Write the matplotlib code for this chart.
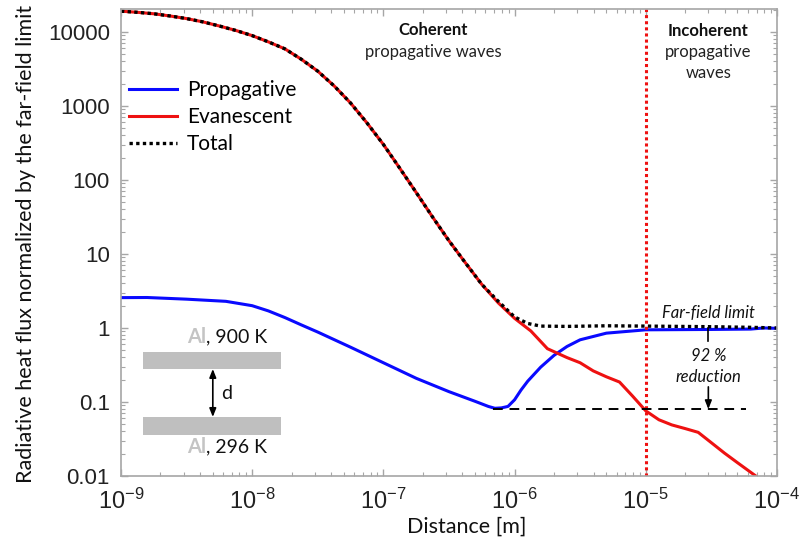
import matplotlib
matplotlib.use('Agg')
import matplotlib.pyplot as plt
from matplotlib.patches import Rectangle
from matplotlib.ticker import LogLocator, FuncFormatter, NullFormatter

plt.rcParams['font.family'] = ['Lato', 'DejaVu Sans']
plt.rcParams['mathtext.fontset'] = 'custom'
plt.rcParams['mathtext.rm'] = 'Liberation Sans'
plt.rcParams['mathtext.it'] = 'Liberation Sans:italic'

# distances [m] and normalized flux
dist_ev = [1e-9, 1.33e-9, 1.78e-9, 2.37e-9, 3.16e-9, 4.22e-9, 5.62e-9, 7.5e-9,
           1e-8, 1.33e-8, 1.78e-8, 2.37e-8, 3.16e-8, 4.22e-8, 5.62e-8, 7.5e-8,
           1e-7, 1.33e-7, 1.78e-7, 2.37e-7, 3.16e-7, 4.22e-7, 5.62e-7, 7.5e-7,
           1e-6, 1.33e-6, 1.78e-6, 2.51e-6, 3.16e-6, 3.98e-6, 5.01e-6, 6.31e-6,
           7.94e-6, 1e-5, 1.26e-5, 1.58e-5, 2.0e-5, 2.51e-5, 3.16e-5, 3.98e-5,
           5.01e-5, 6.9e-5]
evanescent = [19050, 18410, 17580, 16410, 15140, 13650, 12020, 10470,
              8910, 7330, 5890, 4270, 2950, 1860, 1096, 589,
              302, 145, 67.6, 31.6, 15.1, 7.59, 3.89, 2.19,
              1.35, 0.912, 0.525, 0.398, 0.339, 0.263, 0.219, 0.186,
              0.120, 0.0759, 0.0575, 0.049, 0.0437, 0.0389, 0.0282, 0.0204,
              0.0151, 0.01]

dist_prop = [1e-9, 1.58e-9, 3.16e-9, 6.31e-9, 1e-8, 1.33e-8, 1.78e-8, 2.37e-8,
             3.16e-8, 5.62e-8, 1e-7, 1.78e-7, 3.16e-7, 5.01e-7, 6.31e-7, 7.08e-7,
             7.94e-7, 8.91e-7, 1e-6, 1.12e-6, 1.26e-6, 1.58e-6, 2.0e-6, 2.51e-6,
             3.16e-6, 5.01e-6, 1e-5, 3.16e-5, 6.31e-5, 7.94e-5, 1e-4]
propagative = [2.57, 2.58, 2.45, 2.29, 2.0, 1.7, 1.38, 1.1,
               0.881, 0.55, 0.339, 0.209, 0.138, 0.102, 0.0871, 0.0822,
               0.0832, 0.0871, 0.107, 0.145, 0.191, 0.295, 0.427, 0.562,
               0.692, 0.851, 0.944, 0.955, 0.966, 1.0, 0.989]

dist_tot = dist_ev[:23] + [7.5e-7, 1e-6, 1.26e-6, 1.58e-6,
                           2.51e-6, 5.01e-6, 1e-5, 3.16e-5, 6.31e-5, 7.94e-5, 1e-4]
total = evanescent[:23] + [2.3, 1.41, 1.15, 1.06,
                           1.05, 1.07, 1.06, 1.04, 1.02, 1.01, 1.0]

x_ticks = [1e-9, 1e-8, 1e-7, 1e-6, 1e-5, 1e-4]
y_ticks = [0.01, 0.1, 1, 10, 100, 1000, 10000]

d_incoherent = 1e-5
min_level = 0.08
dash_range = [6.8e-7, 5.8e-5]
arrow_x = 3.0e-5

fig = plt.figure(figsize=(7.99, 5.44), dpi=100)
ax = fig.add_axes([0.1514, 0.125, 0.821, 0.8576])

ax.plot(dist_prop, propagative, color='#0a0aff', lw=2.2, label='Propagative')
ax.plot(dist_ev, evanescent, color='#ee1111', lw=2.2, label='Evanescent')
ax.plot(dist_tot, total, color='black', lw=2.4, ls=(0, (1, 1)), label='Total')

ax.axvline(d_incoherent, color='#ee1111', lw=2.2, ls=(0, (1, 1)))
ax.plot(dash_range, [min_level, min_level], color='black', lw=1.4, ls=(0, (5, 3.5)))

ax.set_xscale('log')
ax.set_yscale('log')
ax.set_xticks(x_ticks)
ax.set_yticks(y_ticks)
ax.set_xlim(1e-9, 1e-4)
ax.set_ylim(0.01, 2.01e4)

ax.yaxis.set_major_formatter(FuncFormatter(lambda v, p: f'{v:g}'))
ax.yaxis.set_minor_formatter(NullFormatter())
ax.xaxis.set_minor_formatter(NullFormatter())
ax.xaxis.set_minor_locator(LogLocator(base=10, subs=range(2, 10)))
ax.yaxis.set_minor_locator(LogLocator(base=10, subs=range(2, 10)))

for s in ax.spines.values():
    s.set_color('#a6a6a6')
    s.set_linewidth(1.2)
ax.tick_params(which='both', direction='in', top=True, right=True, color='#a6a6a6')
ax.tick_params(which='major', length=5, width=1.0)
ax.tick_params(which='minor', length=3, width=0.8)
ax.tick_params(axis='x', which='major', labelsize=17, pad=9)
ax.tick_params(axis='y', which='major', labelsize=16, pad=8)
for lab in ax.get_xticklabels() + ax.get_yticklabels():
    lab.set_family('Liberation Sans')
    lab.set_color('#222222')

ax.set_xlabel('Distance [m]', fontsize=15.5, color='#111111')
ax.xaxis.set_label_coords(0.527, -0.088)
ax.set_ylabel('Radiative heat flux normalized by the far-field limit', fontsize=15.5, color='#111111')
ax.yaxis.set_label_coords(-0.13, 0.497)

leg = ax.legend(loc='upper left', bbox_to_anchor=(0.012, 0.848), frameon=False, fontsize=15,
                handlelength=2.3, handletextpad=0.5, labelspacing=0.33, borderpad=0, borderaxespad=0)

# region labels
ax.text(2.4e-7, 1.06e4, 'Coherent', ha='center', va='center', fontsize=12, weight='bold', color='#111111')
ax.text(2.4e-7, 5.4e3, 'propagative waves', ha='center', va='center', fontsize=12, color='#222222')
ax.text(3.0e-5, 1.03e4, 'Incoherent', ha='center', va='center', fontsize=12, weight='bold', color='#111111')
ax.text(3.0e-5, 5.4e3, 'propagative', ha='center', va='center', fontsize=12, color='#222222')
ax.text(3.0e-5, 2.8e3, 'waves', ha='center', va='center', fontsize=12, color='#222222')

# far-field annotation
ax.text(arrow_x, 1.6, 'Far-field limit', ha='center', va='center', fontsize=12, style='italic', color='#111111')
ax.plot([arrow_x, arrow_x], [1.0, 0.66], color='black', lw=1.2)
ax.text(arrow_x, 0.42, '92 %', ha='center', va='center', fontsize=12, style='italic', color='#111111')
ax.text(arrow_x, 0.218, 'reduction', ha='center', va='center', fontsize=12, style='italic', color='#111111')
ax.annotate('', xy=(arrow_x, min_level), xytext=(arrow_x, 0.16),
            arrowprops=dict(arrowstyle='-|>,head_length=0.5,head_width=0.2', color='black', lw=1.2,
                            shrinkA=0, shrinkB=0))

# inset sketch of the two plates
ax.add_patch(Rectangle((0.0335, 0.2294), 0.2104, 0.0364, transform=ax.transAxes, color='#bfbfbf', lw=0))
ax.add_patch(Rectangle((0.0335, 0.0879), 0.2104, 0.0386, transform=ax.transAxes, color='#bfbfbf', lw=0))
ax.annotate('', xy=(0.140, 0.1265), xytext=(0.140, 0.2294), xycoords='axes fraction',
            arrowprops=dict(arrowstyle='<|-|>,head_length=0.5,head_width=0.2', color='black', lw=1.2,
                            shrinkA=0, shrinkB=0))
ax.text(0.152, 0.176, 'd', transform=ax.transAxes, ha='left', va='center', fontsize=14, color='#111111')
ax.text(0.1296, 0.298, 'Al', transform=ax.transAxes, ha='right', va='center', fontsize=14.5,
        weight='bold', color='#c4c4c4')
ax.text(0.1296, 0.298, ', 900 K', transform=ax.transAxes, ha='left', va='center', fontsize=14, color='#111111')
ax.text(0.1296, 0.062, 'Al', transform=ax.transAxes, ha='right', va='center', fontsize=14.5,
        weight='bold', color='#c4c4c4')
ax.text(0.1296, 0.062, ', 296 K', transform=ax.transAxes, ha='left', va='center', fontsize=14, color='#111111')

fig.savefig('out.png', dpi=100)
